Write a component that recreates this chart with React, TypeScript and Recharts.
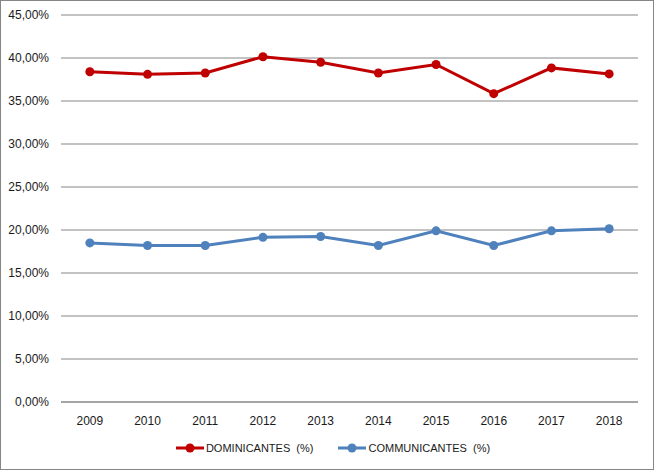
import { LineChart, Line, XAxis, YAxis, CartesianGrid, Legend } from "recharts";

const years = ["2009", "2010", "2011", "2012", "2013", "2014", "2015", "2016", "2017", "2018"];
const dominicantes = [38.4, 38.1, 38.25, 40.15, 39.5, 38.25, 39.25, 35.85, 38.85, 38.15];
const communicantes = [18.5, 18.2, 18.2, 19.15, 19.25, 18.2, 19.9, 18.2, 19.9, 20.15];
const yTicks = [0, 5, 10, 15, 20, 25, 30, 35, 40, 45];

const seriesNames = ["DOMINICANTES  (%)", "COMMUNICANTES  (%)"];
const seriesColors = ["#C00000", "#4F81BD"];

const data = years.map((year, i) => ({
  year,
  dom: dominicantes[i],
  com: communicantes[i],
}));

const fmt = (v: number) => `${v.toFixed(2).replace(".", ",")}%`;

function LegendBox() {
  return (
    <div
      style={{
        height: 24,
        display: "flex",
        justifyContent: "center",
        alignItems: "center",
        gap: 25,
        fontFamily: "'Liberation Sans', Arial, sans-serif",
        fontSize: 11,
        color: "#1a1a1a",
      }}
    >
      {seriesNames.map((name, i) => (
        <div key={name} style={{ display: "flex", alignItems: "center" }}>
          <svg width={28} height={12} style={{ marginRight: 2 }}>
            <line x1={0} y1={6} x2={28} y2={6} stroke={seriesColors[i]} strokeWidth={3} />
            <circle cx={14} cy={6} r={4.5} fill={seriesColors[i]} />
          </svg>
          <span style={{ whiteSpace: "pre" }}>{name}</span>
        </div>
      ))}
    </div>
  );
}

export default function App() {
  const tickStyle = { fontSize: 12, fill: "#1a1a1a", fontFamily: "'Liberation Sans', Arial, sans-serif" };
  return (
    <div style={{ position: "absolute", left: 0, top: 0, width: 654, height: 470, background: "#fff" }}>
      <LineChart width={654} height={470} data={data} margin={{ top: 15, right: 16, left: 0, bottom: 10 }}>
        <CartesianGrid vertical={false} stroke="#868686" />
        <XAxis
          dataKey="year"
          scale="band"
          height={34}
          axisLine={{ stroke: "#868686" }}
          tickLine={false}
          tickSize={6}
          tickMargin={8}
          tick={tickStyle}
        />
        <YAxis
          width={61}
          domain={[0, 45]}
          ticks={yTicks}
          tickFormatter={fmt}
          axisLine={false}
          tickLine={false}
          tickSize={6}
          tickMargin={6}
          tick={tickStyle}
        />
        <Legend
          verticalAlign="bottom"
          wrapperStyle={{ left: 6, width: 654 }}
          content={() => <LegendBox />}
        />
        <Line
          dataKey="dom"
          name={seriesNames[0]}
          stroke={seriesColors[0]}
          strokeWidth={3}
          dot={{ r: 4.5, fill: seriesColors[0], stroke: seriesColors[0], strokeWidth: 0 }}
          isAnimationActive={false}
        />
        <Line
          dataKey="com"
          name={seriesNames[1]}
          stroke={seriesColors[1]}
          strokeWidth={3}
          dot={{ r: 4.5, fill: seriesColors[1], stroke: seriesColors[1], strokeWidth: 0 }}
          isAnimationActive={false}
        />
      </LineChart>
      <div
        style={{
          position: "absolute",
          left: 0,
          top: 0,
          width: 654,
          height: 470,
          boxSizing: "border-box",
          border: "1px solid #868686",
          pointerEvents: "none",
        }}
      />
    </div>
  );
}
